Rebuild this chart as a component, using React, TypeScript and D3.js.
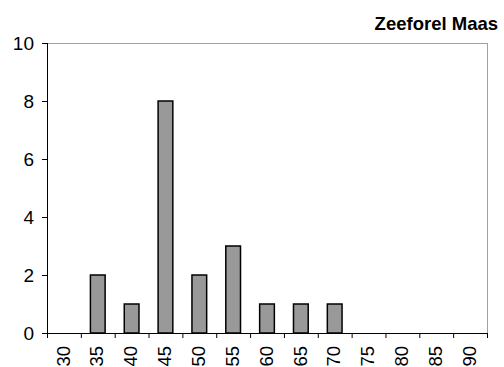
import React from "react";
import * as d3 from "d3";

const lengthClasses = ["30", "35", "40", "45", "50", "55", "60", "65", "70", "75", "80", "85", "90"];
const counts = [0, 2, 1, 8, 2, 3, 1, 1, 1, 0, 0, 0, 0];
const yTicks = [0, 2, 4, 6, 8, 10];
const title = "Zeeforel Maas";

const W = 504;
const H = 367;
const left = 47;
const right = 487;
const top = 43;
const bottom = 333;
const font = "'Liberation Sans', Arial, sans-serif";

export default function App() {
  const x = d3.scaleBand<string>().domain(lengthClasses).range([left, right]).paddingInner(0).paddingOuter(0);
  const y = d3.scaleLinear().domain([0, 10]).range([bottom, top]);
  const bw = x.bandwidth() / 2.3;
  const boundaries = d3.range(lengthClasses.length + 1).map((i) => left + i * x.step());

  return (
    <svg width={W} height={H} style={{ position: "absolute", left: 0, top: 0, background: "#fff" }} fontFamily={font}>
      {/* plot area frame */}
      <line x1={left} x2={right} y1={top + 0.5} y2={top + 0.5} stroke="#a0a0a0" strokeWidth={1} />
      <line x1={right + 0.5} x2={right + 0.5} y1={top} y2={bottom} stroke="#a0a0a0" strokeWidth={1} />

      {/* bars */}
      {lengthClasses.map((c, i) =>
        counts[i] > 0 ? (
          <rect
            key={c}
            x={(x(c) as number) + (x.bandwidth() - bw) / 2}
            y={y(counts[i])}
            width={bw}
            height={y(0) - y(counts[i])}
            fill="#999999"
            stroke="#000"
            strokeWidth={1.5}
          />
        ) : null
      )}

      {/* y axis */}
      <line x1={left + 0.5} x2={left + 0.5} y1={top} y2={bottom} stroke="#000" strokeWidth={1} />
      {yTicks.map((t) => (
        <g key={t}>
          <line x1={left - 5} x2={left} y1={y(t) + 0.5} y2={y(t) + 0.5} stroke="#000" strokeWidth={1} />
          <text x={34} y={y(t)} dy="0.36em" textAnchor="end" fontSize={19} fill="#000">
            {t}
          </text>
        </g>
      ))}

      {/* x axis */}
      <line x1={left} x2={right + 1} y1={bottom + 0.5} y2={bottom + 0.5} stroke="#000" strokeWidth={1} />
      {boundaries.map((b, i) => (
        <line key={i} x1={b + 0.5} x2={b + 0.5} y1={bottom} y2={bottom + 5} stroke="#000" strokeWidth={1} />
      ))}
      {lengthClasses.map((c) => {
        const cx = (x(c) as number) + x.bandwidth() / 2;
        return (
          <text
            key={c}
            transform={`translate(${cx - 1},${346}) rotate(-90)`}
            textAnchor="end"
            dy="0.36em"
            fontSize={18.5}
            fill="#000"
          >
            {c}
          </text>
        );
      })}

      {/* title */}
      <text x={498} y={30} textAnchor="end" fontSize={18.5} fontWeight="bold" fill="#000">
        {title}
      </text>
    </svg>
  );
}
